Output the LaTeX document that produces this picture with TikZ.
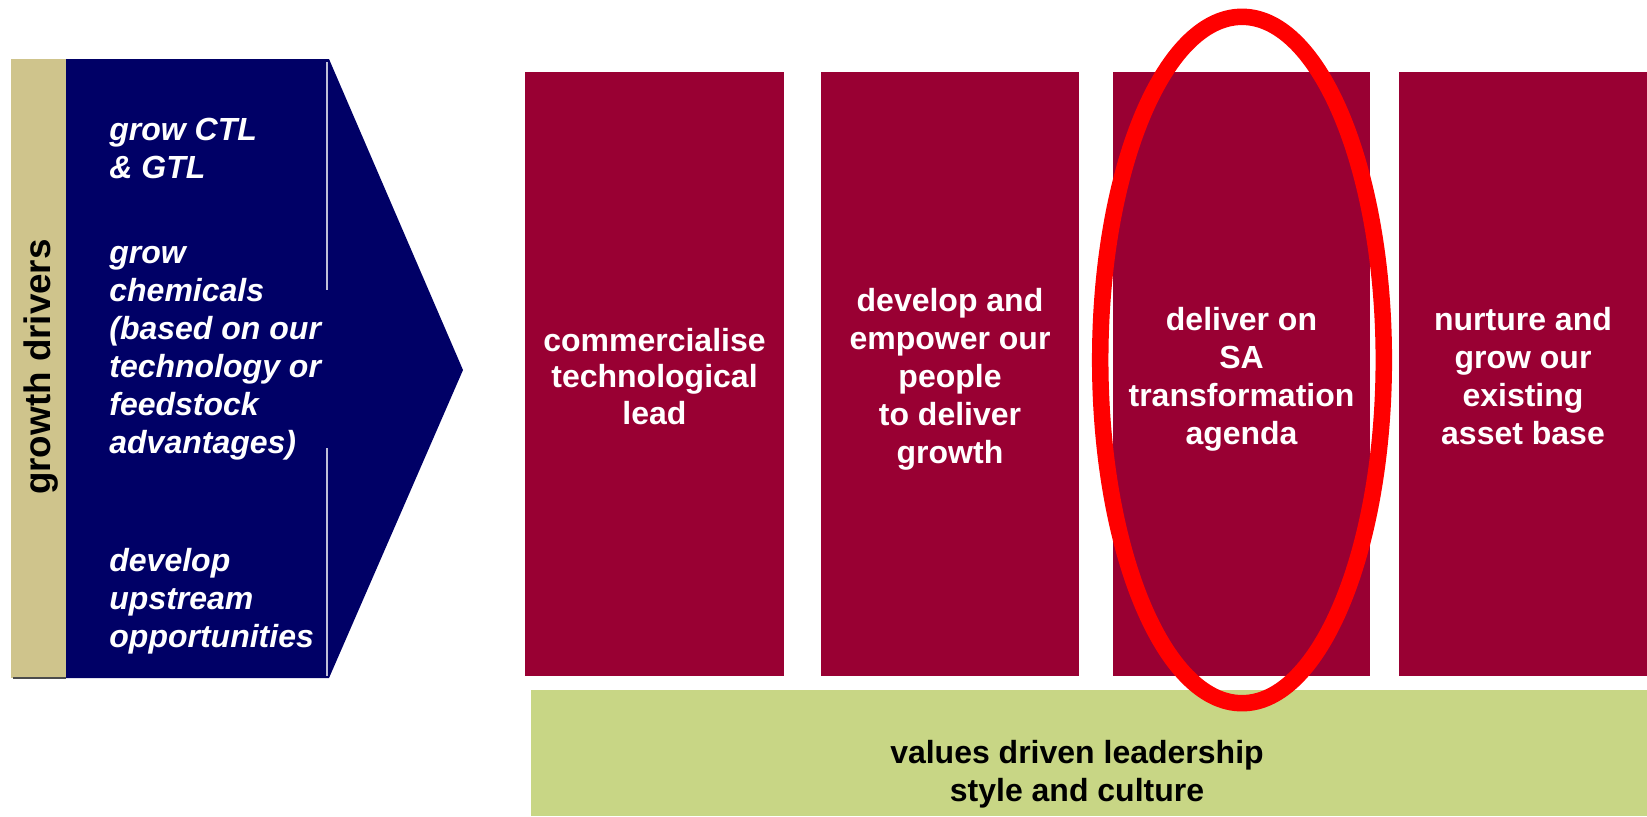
\documentclass[tikz,border=0pt]{standalone}
\usepackage{fontspec}
\setmainfont{Liberation Sans}
\definecolor{drvnavy}{RGB}{0,0,102}
\definecolor{wine}{RGB}{153,0,51}
\definecolor{sand}{RGB}{207,196,140}
\definecolor{lime}{RGB}{200,214,133}

\begin{document}
\begin{tikzpicture}[x=0.5pt,y=-0.5pt,
  pillar/.style={fill=wine,inner sep=0pt,minimum height=302pt},
  pillartext/.style={yshift=-3pt,inner sep=0pt,text=white,align=center,
    font=\bfseries\fontsize{16}{19}\selectfont},
  driver/.style={anchor=west,inner sep=0pt,text=white,align=left,
    font=\bfseries\itshape\fontsize{16}{19}\selectfont}]
\useasboundingbox (0,0) rectangle (1647,816);

% side bar
\fill [sand] (11,59) rectangle (66,678);
\draw [gray!60!black, thick] (13,678)--(66,678);
\node [rotate=90, inner sep=0pt, font=\bfseries\fontsize{18.4}{20}\selectfont] (side) at (41,367) {growth drivers};

% navy arrow
\fill [drvnavy] (66,59)--(329,59)--(463,370)--(329,678)--(66,678)--cycle;
\draw [white!75!drvnavy, line width=0.8pt] (327,62)--(327,290);
\draw [white!75!drvnavy, line width=0.8pt] (327,448)--(327,676);

\node [driver] (ctl) at (109,148) {grow CTL\\\& GTL};
\node [driver] (chem) at (109,353.5) {grow\\chemicals\\(based on our\\technology or\\feedstock\\advantages)};
\node [driver] (upstream) at (109,601.5) {develop\\upstream\\opportunities};

% pillars
\node [pillar, minimum width=129.5pt] (tech) at (654.5,373.5) {};
\node [pillar, minimum width=129pt] (people) at (950,373.5) {};
\node [pillar, minimum width=128.5pt] (transform) at (1241.5,373.5) {};
\node [pillar, minimum width=124pt] (assets) at (1523,373.5) {};
\node [pillartext, yshift=1.5pt, font=\bfseries\fontsize{16}{18.4}\selectfont] (techtxt) at (tech) {commercialise\\technological\\lead};
\node [pillartext] (peopletxt) at (people) {develop and\\empower our\\people\\to deliver\\growth};
\node [pillartext] (transformtxt) at (transform) {deliver on\\SA\\transformation\\agenda};
\node [pillartext, yshift=1.5pt] (assetstxt) at (assets) {nurture and\\grow our\\existing\\asset base};

% foundation
\fill [lime] (531,690) rectangle (1647,816);
\node [align=center, font=\bfseries\fontsize{16}{19}\selectfont] (values) at (1077,774) {values driven leadership\\style and culture};

% highlight
\draw [red, line width=8.25pt] (1242,360) ellipse [x radius=70.9pt, y radius=171.6pt];

\end{tikzpicture}
\end{document}
